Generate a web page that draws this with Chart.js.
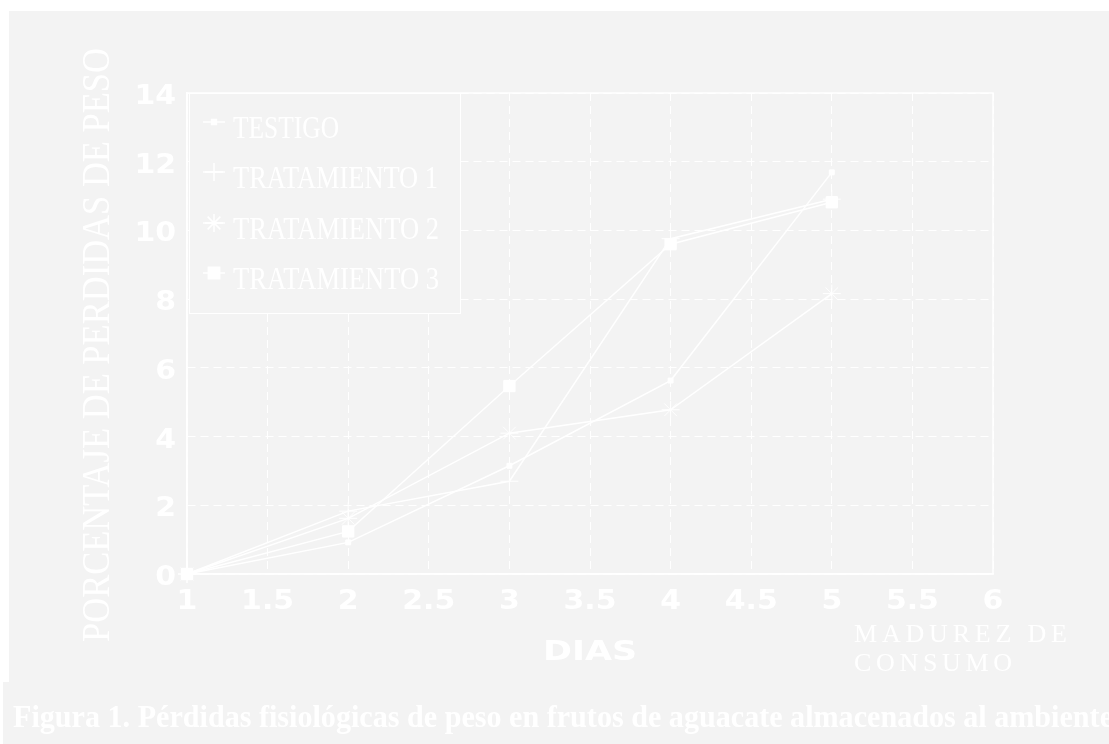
<!DOCTYPE html>
<html>
<head>
<meta charset="utf-8">
<script src="https://cdn.jsdelivr.net/npm/chart.js@4/dist/chart.umd.min.js"></script>
<style>
  html, body { margin: 0; padding: 0; background: #ffffff; }
  .wrap { position: relative; width: 1109px; height: 744px; }
</style>
</head>
<body>
<div class="wrap"><canvas id="myChart"></canvas></div>
<script>
// values
const dias = [1, 2, 3, 4, 5];
const testigo = [0, 0.92, 3.15, 5.63, 11.69];
const tratamiento1 = [0, 1.83, 2.70, 9.76, 10.91];
const tratamiento2 = [0, 1.62, 4.10, 4.78, 8.16];
const tratamiento3 = [0, 1.24, 5.47, 9.60, 10.82];
const seriesNames = ["TESTIGO", "TRATAMIENTO 1", "TRATAMIENTO 2", "TRATAMIENTO 3"];

const xTickLabels = ["1", "1.5", "2", "2.5", "3", "3.5", "4", "4.5", "5", "5.5", "6"];
const yTickLabels = ["0", "2", "4", "6", "8", "10", "12", "14"];

const yTitle = "PORCENTAJE DE PERDIDAS DE PESO";
const xTitle = "DIAS";
const noteLines = ["MADUREZ DE", "CONSUMO"];
const caption = "Figura 1. Pérdidas fisiológicas de peso en frutos de aguacate almacenados al ambiente";

const toPoints = (ys) => dias.map((d, i) => ({ x: d, y: ys[i] }));

const WHITE = "#ffffff";
const GREY = "#f3f3f3";

// draw a string squeezed/stretched to a given width
const fitText = (ctx, text, x, y, font, width, align) => {
  ctx.save();
  ctx.font = font;
  const w = ctx.measureText(text).width;
  ctx.translate(x, y);
  ctx.scale(width / w, 1);
  ctx.textAlign = align || "left";
  ctx.textBaseline = "alphabetic";
  ctx.fillText(text, 0, 0);
  ctx.restore();
};

// draw a string with even letter spacing to reach a width
const spacedText = (ctx, text, x, y, font, width) => {
  ctx.save();
  ctx.font = font;
  ctx.textAlign = "left";
  const chars = text.split("");
  const total = chars.reduce((s, c) => s + ctx.measureText(c).width, 0);
  const gap = (width - total) / (chars.length - 1);
  let cx = x;
  chars.forEach((c) => {
    ctx.fillText(c, cx, y);
    cx += ctx.measureText(c).width + gap;
  });
  ctx.restore();
};

const tickText = (ctx, text, x, y, align) => {
  ctx.save();
  ctx.font = "bold 26px 'DejaVu Sans'";
  ctx.translate(x, y);
  ctx.scale(1.15, 1);
  ctx.textAlign = align;
  ctx.fillText(text, 0, 0);
  ctx.restore();
};

const figurePlugin = {
  id: "figura",
  beforeDraw(chart) {
    const ctx = chart.ctx;
    ctx.save();
    ctx.fillStyle = WHITE;
    ctx.fillRect(0, 0, chart.width, chart.height);
    ctx.fillStyle = GREY;
    ctx.fillRect(9, 11, chart.width - 9, 671);
    ctx.fillRect(3, 682, chart.width - 3, chart.height - 682);
    ctx.restore();
  },
  beforeDatasetsDraw(chart) {
    const { ctx, chartArea } = chart;
    ctx.save();
    ctx.strokeStyle = WHITE;
    ctx.lineWidth = 1.5;
    ctx.strokeRect(chartArea.left, chartArea.top, chartArea.right - chartArea.left, chartArea.bottom - chartArea.top);
    ctx.restore();
  },
  afterDatasetsDraw(chart) {
    const ctx = chart.ctx;
    // legend box
    ctx.save();
    ctx.fillStyle = GREY;
    ctx.fillRect(189, 93, 271, 220);
    ctx.strokeStyle = WHITE;
    ctx.lineWidth = 1;
    ctx.strokeRect(189.5, 93.5, 271, 220);
    const baselines = [138, 188, 239, 289];
    const widths = [106, 205, 206, 206];
    chart.data.datasets.forEach((ds, i) => {
      const my = baselines[i] - 16;
      ctx.strokeStyle = WHITE;
      ctx.fillStyle = WHITE;
      ctx.lineWidth = 1.5;
      ctx.beginPath();
      ctx.moveTo(203, my);
      ctx.lineTo(225, my);
      ctx.stroke();
      Chart.helpers.drawPoint(ctx, {
        pointStyle: ds.pointStyle,
        radius: ds.pointRadius,
        rotation: 0,
        borderWidth: 1
      }, 214, my);
      ctx.fillStyle = WHITE;
      fitText(ctx, ds.label, 233, baselines[i], "32px 'Liberation Serif'", widths[i], "left");
    });
    ctx.restore();
  },
  afterDraw(chart) {
    const ctx = chart.ctx;
    const xs = chart.scales.x;
    const ys = chart.scales.y;
    ctx.save();
    ctx.fillStyle = WHITE;

    xTickLabels.forEach((t) => {
      tickText(ctx, t, xs.getPixelForValue(parseFloat(t)), 609, "center");
    });
    yTickLabels.forEach((t) => {
      tickText(ctx, t, 176, ys.getPixelForValue(parseFloat(t)) + 11, "right");
    });

    // axis titles
    fitText(ctx, xTitle, 590, 660, "bold 27px 'DejaVu Sans'", 94, "center");
    ctx.save();
    ctx.translate(109, 345);
    ctx.rotate(-Math.PI / 2);
    fitText(ctx, yTitle, 0, 0, "41px 'Liberation Serif'", 594, "center");
    ctx.restore();

    spacedText(ctx, noteLines[0], 854, 642, "26px 'Liberation Serif'", 213);
    spacedText(ctx, noteLines[1], 854, 671, "26px 'Liberation Serif'", 158);

    fitText(ctx, caption, 13, 727, "bold 31px 'Liberation Serif'", 1100, "left");
    ctx.restore();
  }
};

const lineDataset = (label, values, style, radius) => ({
  label: label,
  data: toPoints(values),
  borderColor: WHITE,
  backgroundColor: WHITE,
  borderWidth: 1.5,
  pointStyle: style,
  pointRadius: radius,
  pointBorderWidth: 1,
  pointBackgroundColor: WHITE,
  pointBorderColor: WHITE,
  tension: 0,
  clip: false
});

const ctx = document.getElementById("myChart").getContext("2d");
const myChart = new Chart(ctx, {
  type: "line",
  data: {
    datasets: [
      lineDataset(seriesNames[0], testigo, "rect", 3.5),
      lineDataset(seriesNames[1], tratamiento1, "cross", 9),
      lineDataset(seriesNames[2], tratamiento2, "star", 9),
      lineDataset(seriesNames[3], tratamiento3, "rect", 8),
    ],
  },
  options: {
    responsive: true,
    maintainAspectRatio: false,
    animation: false,
    layout: { padding: { left: 0, top: 93, right: 116, bottom: 0 } },
    plugins: {
      legend: { display: false },
      tooltip: { enabled: false },
    },
    scales: {
      x: {
        type: "linear",
        min: 1,
        max: 6,
        ticks: { display: false, stepSize: 0.5 },
        grid: { color: WHITE, lineWidth: 1, drawTicks: false },
        border: { color: WHITE, width: 1.5, dash: [8, 5] },
        afterFit: (scale) => { scale.height = 170; },
      },
      y: {
        min: 0,
        max: 14,
        ticks: { display: false, stepSize: 2 },
        grid: { color: WHITE, lineWidth: 1, drawTicks: false },
        border: { color: WHITE, width: 1.5, dash: [8, 5] },
        afterFit: (scale) => { scale.width = 187; },
      },
    },
  },
  plugins: [figurePlugin],
});
</script>
</body>
</html>
